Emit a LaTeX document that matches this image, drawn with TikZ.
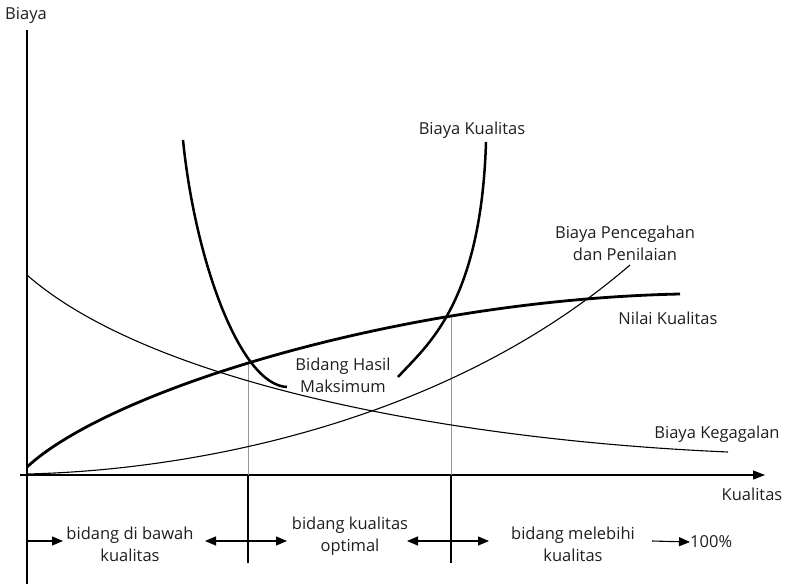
\documentclass[tikz,border=0pt]{standalone}
\usepackage{fontspec}
\setmainfont{Open Sans}
\usetikzlibrary{arrows.meta}
\begin{document}
\begin{tikzpicture}[x=1pt,y=-1pt,
  lbl/.style={font=\fontsize{16.5}{22}\selectfont, text=black!88, inner sep=0pt, align=center},
  thin curve/.style={line width=1.1pt},
  thick curve/.style={line width=2.8pt},
  guide/.style={line width=0.5pt, draw=black!40},
  divider/.style={line width=1.2pt},
  span arrow/.style={line width=1.1pt, -{Triangle[length=11pt,width=9pt]}}]
\useasboundingbox (0,0) rectangle (792,586);

% axes
\coordinate (O) at (27,475);
\coordinate (ytop) at (27,30);
\coordinate (ybot) at (27,584);
\coordinate (xleft) at (20,475);
\coordinate (xright) at (765,475);
\draw[line width=1.2pt] (ybot) -- (ytop);
\draw[line width=1.2pt, -{Triangle[length=12pt,width=9pt]}] (xleft) -- (xright);
\node[lbl] (biaya) at (26,15) {Biaya};
\node[lbl] (kualitas) at (752,494) {Kualitas};

% guide lines above the axis, dividers below it
\coordinate (g1top) at (248,360);
\coordinate (g1ax) at (248,475);
\coordinate (g1bot) at (248,563);
\coordinate (g2top) at (451,316);
\coordinate (g2ax) at (451,475);
\coordinate (g2bot) at (451,563);
\draw[guide] (g1top) -- (g1ax);
\draw[guide] (g2top) -- (g2ax);
\draw[divider] (g1ax) -- (g1bot);
\draw[divider] (g2ax) -- (g2bot);

% failure cost
\draw[thin curve] (27,275) .. controls (150,383) and (450,440) .. (728,452);
% prevention and appraisal cost
\draw[thin curve] (27,474) .. controls (200,470) and (450,420) .. (630,265);
% quality value
\draw[thick curve] (27,467) .. controls (110,390) and (400,300) .. (680,294);
% total quality cost
\draw[line width=2.5pt] (183,140) .. controls (195,260) and (240,385) .. (287,387);
\draw[line width=2.5pt] (398,377) .. controls (426,346) and (481,305) .. (486,142);

% curve labels
\node[lbl] (bk) at (472,130) {Biaya Kualitas};
\node[lbl] (bp) at (625,243) {Biaya Pencegahan\\dan Penilaian};
\node[lbl] (nk) at (668,318) {Nilai Kualitas};
\node[lbl] (bg) at (717,434) {Biaya Kegagalan};
\node[lbl] (bh) at (343,375) {Bidang Hasil\\Maksimum};

% region labels
\node[lbl] (r1) at (130,544) {bidang di bawah\\kualitas};
\node[lbl] (r2) at (350,536) {bidang kualitas\\optimal};
\node[lbl] (r3) at (573,544) {bidang melebihi\\kualitas};
\node[lbl, anchor=west] (pct) at (690,542) {100\%};

% region arrows
\coordinate (a0) at (27,541);
\coordinate (a1) at (63,541);
\coordinate (b1) at (248,541);
\coordinate (b0) at (205,541);
\coordinate (b2) at (287,541);
\coordinate (c1) at (451,541);
\coordinate (c0) at (407,541);
\coordinate (c2) at (489,541);
\coordinate (d0) at (652,541);
\draw[span arrow] (a0) -- (a1);
\draw[span arrow] (b1) -- (b0);
\draw[span arrow] (b1) -- (b2);
\draw[span arrow] (c1) -- (c0);
\draw[span arrow] (c1) -- (c2);
\draw[span arrow] (d0) -- (pct.west);
\end{tikzpicture}
\end{document}
